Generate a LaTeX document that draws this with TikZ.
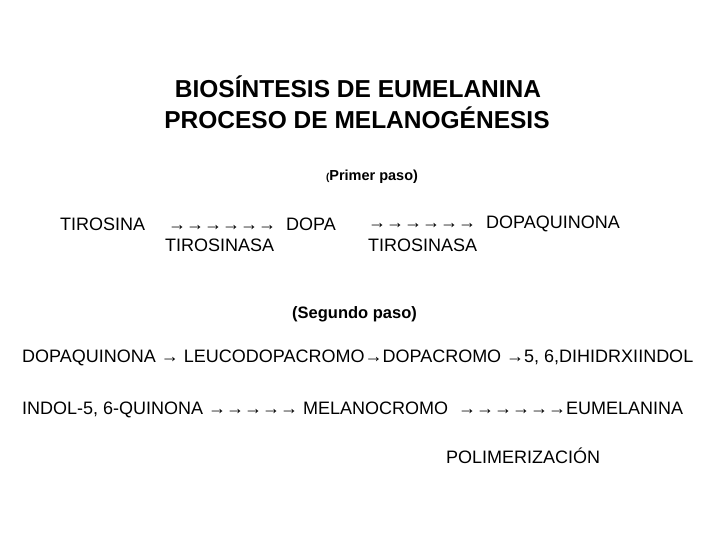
\documentclass[tikz,border=0pt]{standalone}
\usepackage{fontspec}
\setmainfont{Liberation Sans}
\begin{document}
\begin{tikzpicture}[x=1pt,y=-1pt,
  titletext/.style={font=\bfseries\fontsize{24.5}{28}\selectfont,inner sep=0pt},
  linetext/.style={font=\fontsize{18}{21}\selectfont,inner sep=0pt,anchor=west}]
\useasboundingbox (0,0) rectangle (720,540);
% titulo
\node[titletext] (title1) at (358,87) {BIOSÍNTESIS DE EUMELANINA};
\node[titletext] (title2) at (357,118) {PROCESO DE MELANOGÉNESIS};
% primer paso
\node[linetext,anchor=center,font=\bfseries\fontsize{14.5}{17}\selectfont] (paso1) at (372,177) {{\fontsize{10}{12}\selectfont(}Primer paso)};
\node[linetext] (tiro) at (60,224) {TIROSINA};
\node[linetext] (dopa) at (168,224) {→→→→→→\ \ DOPA};
\node[linetext] (dopaq) at (368,224) {→→→→→→\ \ DOPAQUINONA};
\node[linetext] (enz1) at (165,245) {TIROSINASA};
\node[linetext] (enz2) at (368,245) {TIROSINASA};
% segundo paso
\node[linetext,font=\bfseries\fontsize{16.5}{19}\selectfont] (paso2) at (292,314) {(Segundo paso)};
\node[linetext] (linea1) at (22,358) {DOPAQUINONA → LEUCODOPACROMO→DOPACROMO →5, 6,DIHIDRXIINDOL};
\node[linetext] (linea2) at (22,410) {INDOL-5, 6-QUINONA\ →→→→→\ MELANOCROMO\ \ →→→→→→EUMELANINA};
\node[linetext] (polim) at (446,456) {POLIMERIZACIÓN};
\end{tikzpicture}
\end{document}
